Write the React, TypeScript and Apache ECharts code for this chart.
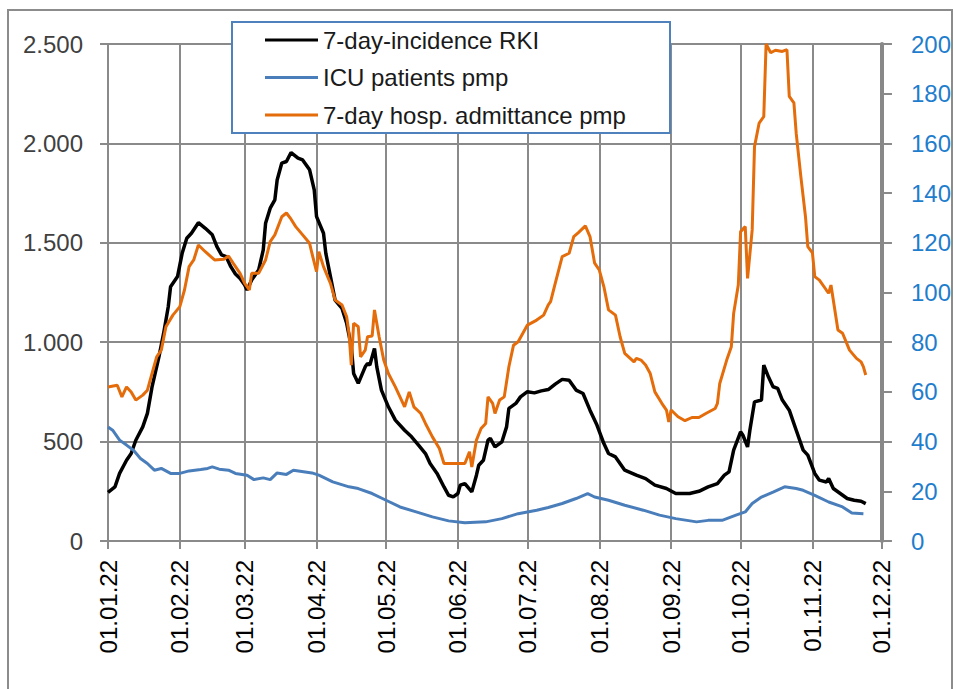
import React, { useEffect, useRef } from "react";
import * as echarts from "echarts";

// Day offsets from 01.01.22 and values
const incidenceDays = [0, 3, 5, 8, 10, 12, 15, 17, 19, 22, 24, 26, 27, 30, 32, 34, 36, 39, 42, 45, 47, 49, 51, 53, 55, 57, 59, 60, 62, 65, 67, 68, 70, 72, 73, 75, 77, 79, 82, 84, 87, 89, 90, 93, 94, 96, 98, 101, 103, 105, 106, 108, 111, 112, 113, 115, 116, 118, 121, 124, 128, 131, 134, 137, 139, 142, 145, 147, 149, 151, 152, 154, 157, 159, 160, 162, 164, 165, 167, 170, 172, 173, 176, 178, 181, 184, 187, 190, 193, 196, 199, 202, 205, 208, 211, 214, 216, 219, 223, 228, 232, 236, 241, 245, 251, 255, 259, 263, 266, 268, 270, 273, 274, 276, 277, 279, 282, 283, 285, 287, 289, 291, 294, 297, 300, 302, 305, 307, 310, 311, 313, 316, 319, 322, 325, 327];
const incidenceValues = [245, 272, 340, 406, 440, 507, 574, 642, 775, 927, 1044, 1178, 1279, 1330, 1447, 1523, 1548, 1601, 1573, 1540, 1481, 1439, 1430, 1380, 1343, 1321, 1288, 1263, 1313, 1363, 1464, 1598, 1674, 1716, 1816, 1901, 1909, 1954, 1926, 1917, 1867, 1766, 1632, 1548, 1447, 1330, 1212, 1170, 1095, 977, 843, 793, 876, 893, 885, 969, 876, 759, 675, 608, 557, 524, 482, 440, 390, 340, 272, 230, 222, 239, 281, 289, 247, 331, 381, 406, 507, 516, 473, 499, 574, 667, 692, 725, 751, 745, 755, 762, 789, 813, 809, 759, 742, 658, 583, 490, 440, 423, 356, 331, 314, 281, 264, 239, 239, 250, 272, 289, 331, 348, 457, 549, 532, 473, 557, 700, 709, 885, 826, 776, 768, 709, 658, 557, 457, 432, 340, 306, 297, 314, 264, 239, 214, 205, 200, 188];

const icuDays = [0, 2, 5, 8, 11, 14, 17, 20, 23, 27, 31, 35, 40, 43, 45, 48, 52, 55, 60, 63, 67, 70, 73, 77, 80, 88, 91, 97, 104, 108, 114, 120, 126, 133, 140, 147, 154, 163, 170, 177, 185, 190, 196, 202, 207, 210, 216, 223, 231, 238, 245, 254, 259, 265, 271, 275, 278, 282, 287, 292, 297, 300, 305, 311, 317, 321, 326];
const icuValues = [45.9, 44.6, 40.6, 38.6, 36.5, 33.2, 31.2, 28.5, 29.2, 27.2, 27.2, 28.2, 28.8, 29.2, 29.8, 28.9, 28.5, 27.2, 26.5, 24.7, 25.4, 24.7, 27.4, 26.8, 28.5, 27.4, 26.5, 23.8, 21.8, 21.1, 19.1, 16.4, 13.7, 11.7, 9.7, 8.1, 7.3, 7.7, 9.0, 11.0, 12.4, 13.5, 15.1, 17.1, 19.1, 17.7, 16.4, 14.4, 12.4, 10.4, 9.0, 7.7, 8.3, 8.3, 10.4, 11.7, 15.1, 17.7, 19.7, 21.8, 21.1, 20.4, 18.4, 15.7, 13.7, 11.3, 11.0];

const hospDays = [0, 4, 6, 8, 10, 12, 15, 17, 19, 21, 23, 25, 28, 31, 33, 35, 37, 39, 42, 46, 50, 52, 54, 57, 59, 61, 62, 65, 68, 70, 72, 75, 77, 79, 81, 84, 87, 88, 90, 91, 93, 96, 98, 101, 103, 104, 105, 106, 108, 109, 111, 112, 114, 115, 117, 119, 121, 124, 128, 130, 132, 135, 137, 140, 143, 145, 150, 154, 156, 157, 159, 161, 163, 164, 166, 167, 169, 171, 173, 175, 177, 181, 185, 188, 190, 191, 193, 196, 199, 201, 203, 206, 208, 210, 212, 214, 216, 219, 221, 223, 227, 228, 230, 232, 234, 236, 239, 241, 242, 243, 246, 249, 252, 255, 258, 262, 263, 264, 267, 269, 270, 272, 273, 275, 276, 278, 279, 281, 283, 284, 286, 288, 291, 293, 294, 296, 297, 299, 301, 302, 304, 305, 307, 310, 311, 312, 313, 315, 317, 320, 323, 325, 326, 327];
const hospValues = [62.0, 62.7, 58.0, 62.0, 60.0, 56.7, 58.7, 60.7, 67.4, 74.1, 76.8, 86.2, 90.9, 94.3, 101.0, 110.4, 113.1, 119.1, 116.4, 113.1, 113.4, 114.7, 111.8, 107.7, 103.7, 101.0, 107.7, 107.7, 113.1, 120.5, 123.2, 130.5, 132.0, 129.5, 126.5, 123.2, 119.8, 115.8, 108.4, 116.4, 110.4, 103.7, 97.0, 95.0, 90.2, 83.6, 70.8, 87.6, 86.2, 74.1, 76.8, 82.2, 82.5, 93.0, 82.2, 72.8, 67.4, 62.0, 54.0, 60.0, 54.0, 51.3, 47.3, 41.9, 37.2, 31.2, 31.2, 31.2, 35.9, 29.8, 40.6, 45.3, 47.3, 58.0, 55.4, 51.3, 56.7, 58.0, 70.1, 78.8, 80.2, 86.9, 88.9, 90.9, 95.0, 96.3, 103.7, 114.4, 115.8, 122.5, 124.1, 126.8, 122.5, 111.8, 109.1, 102.3, 93.0, 90.9, 82.2, 75.5, 72.1, 73.5, 72.8, 70.8, 67.4, 60.0, 55.4, 52.7, 47.9, 52.7, 50.0, 48.4, 49.7, 49.7, 51.3, 53.3, 55.4, 63.4, 72.8, 78.2, 91.6, 103.0, 124.5, 126.5, 105.7, 125.2, 158.7, 168.2, 170.8, 200, 196.5, 197.5, 197.0, 197.7, 178.9, 176.3, 164.0, 146.6, 130.5, 118.5, 115.9, 106.4, 105.0, 101.0, 99.7, 103.0, 97.0, 84.9, 83.6, 76.8, 73.5, 72.1, 70.1, 66.8];

const seriesNames = ["7-day-incidence RKI", "ICU patients pmp", "7-day hosp. admittance pmp"];
const leftTicks = { min: 0, max: 2500, interval: 500 };
const rightTicks = { min: 0, max: 200, interval: 20 };

const FONT = "'Liberation Sans', Arial, sans-serif";
const GRID = "#8a8a8a";

function buildCategories(): string[] {
  const out: string[] = [];
  const start = Date.UTC(2022, 0, 1);
  const end = Date.UTC(2022, 11, 1);
  for (let t = start; t <= end; t += 86400000) {
    const d = new Date(t);
    const dd = String(d.getUTCDate()).padStart(2, "0");
    const mm = String(d.getUTCMonth() + 1).padStart(2, "0");
    const yy = String(d.getUTCFullYear() % 100).padStart(2, "0");
    out.push(`${dd}.${mm}.${yy}`);
  }
  return out;
}

const pairs = (days: number[], vals: number[]) => days.map((d, i) => [d, vals[i]]);
const isMonthStart = (_i: number, v: string) => typeof v === "string" && v.startsWith("01.");
const fmtThousands = (v: number) =>
  v >= 1000 ? `${Math.floor(v / 1000)}.${String(v % 1000).padStart(3, "0")}` : String(v);

export default function App() {
  const ref = useRef<HTMLDivElement>(null);
  useEffect(() => {
    if (!ref.current) return;
    const chart = echarts.init(ref.current, undefined, { renderer: "svg" });
    const categories = buildCategories();
    chart.setOption({
      animation: false,
      backgroundColor: "#ffffff",
      textStyle: { fontFamily: FONT },
      grid: { left: 108, right: 71, top: 44, bottom: 148, containLabel: false },
      graphic: [
        {
          type: "rect",
          z: 1,
          silent: true,
          shape: { x: 8, y: 10, width: 944, height: 720 },
          style: { fill: "none", stroke: "#8c8c8c", lineWidth: 2 },
        },
        {
          type: "rect",
          z: 5,
          silent: true,
          shape: { x: 232, y: 22, width: 438, height: 111 },
          style: { fill: "#ffffff", stroke: "#4f81bd", lineWidth: 2 },
        },
      ],
      legend: {
        z: 10,
        orient: "vertical",
        left: 265,
        top: 28,
        padding: 0,
        itemWidth: 53,
        itemHeight: 3,
        itemGap: 13.5,
        icon: "rect",
        data: seriesNames,
        textStyle: { fontFamily: FONT, fontSize: 24, lineHeight: 24, color: "#1a1a1a" },
      },
      xAxis: {
        type: "category",
        data: categories,
        boundaryGap: false,
        axisLine: { show: true, lineStyle: { color: GRID, width: 2 } },
        axisTick: { show: true, interval: isMonthStart, length: 8, lineStyle: { color: GRID, width: 2 } },
        splitLine: { show: true, interval: isMonthStart, lineStyle: { color: GRID, width: 2 } },
        axisLabel: {
          interval: isMonthStart,
          rotate: 90,
          margin: 19,
          fontSize: 24,
          fontFamily: FONT,
          color: "#000000",
        },
      },
      yAxis: [
        {
          type: "value",
          position: "left",
          ...leftTicks,
          axisLine: { show: true, lineStyle: { color: GRID, width: 2 } },
          axisTick: { show: true, length: 8, lineStyle: { color: GRID, width: 2 } },
          splitLine: { show: true, lineStyle: { color: GRID, width: 2 } },
          axisLabel: { margin: 25, fontSize: 24, fontFamily: FONT, color: "#404040", formatter: fmtThousands },
        },
        {
          type: "value",
          position: "right",
          ...rightTicks,
          axisLine: { show: true, lineStyle: { color: "#888888", width: 4 } },
          axisTick: { show: true, length: 10, lineStyle: { color: GRID, width: 2 } },
          splitLine: { show: false },
          axisLabel: { margin: 29, fontSize: 24, fontFamily: FONT, color: "#1f7dcd" },
        },
      ],
      series: [
        {
          name: seriesNames[0],
          type: "line",
          yAxisIndex: 0,
          data: pairs(incidenceDays, incidenceValues),
          showSymbol: false,
          symbol: "none",
          color: "#000000",
          lineStyle: { color: "#000000", width: 3.5 },
          z: 3,
        },
        {
          name: seriesNames[1],
          type: "line",
          yAxisIndex: 1,
          data: pairs(icuDays, icuValues),
          showSymbol: false,
          symbol: "none",
          color: "#4a7ebb",
          lineStyle: { color: "#4a7ebb", width: 3 },
          z: 3,
        },
        {
          name: seriesNames[2],
          type: "line",
          yAxisIndex: 1,
          data: pairs(hospDays, hospValues),
          showSymbol: false,
          symbol: "none",
          color: "#e46c0a",
          lineStyle: { color: "#e46c0a", width: 3 },
          z: 3,
        },
      ],
    });
    return () => chart.dispose();
  }, []);
  return (
    <div
      ref={ref}
      style={{ position: "fixed", left: 0, top: 0, width: 954, height: 689, background: "#fff" }}
    />
  );
}
